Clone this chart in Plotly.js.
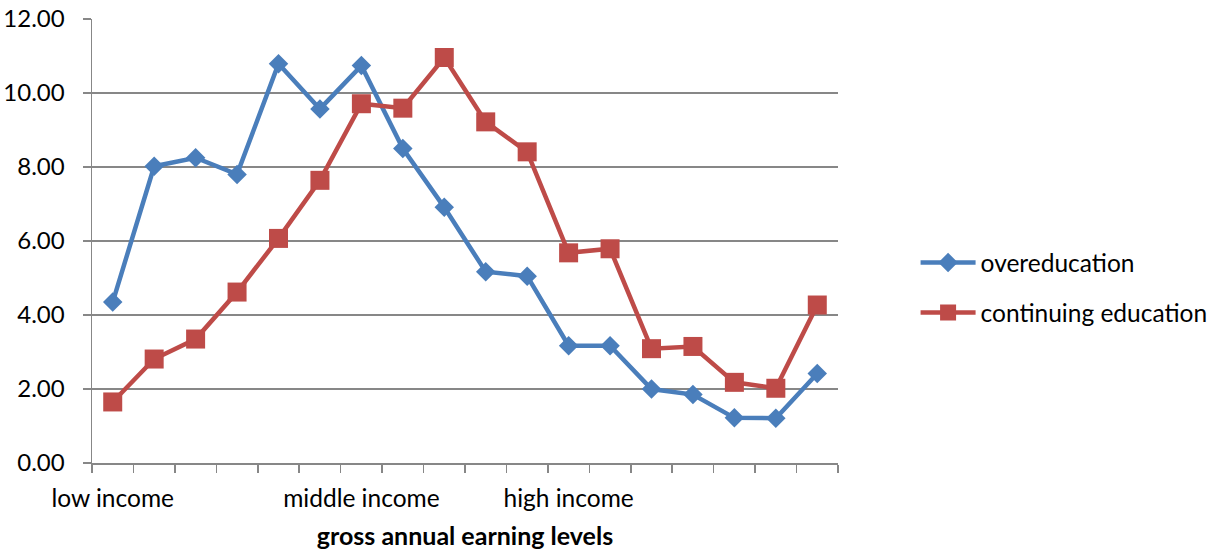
<!DOCTYPE html>
<html>
<head>
<meta charset="utf-8">
<script src="https://cdn.plot.ly/plotly-3.0.1.min.js"></script>
<style>html,body{margin:0;padding:0;background:#fff;}#chart{width:1219px;height:554px;}</style>
</head>
<body>
<div id="chart"></div>
<script>
// earning level positions (18 levels)
const levels = [1, 2, 3, 4, 5, 6, 7, 8, 9, 10, 11, 12, 13, 14, 15, 16, 17, 18];
const labelPositions = [1, 7, 12];
const labelTexts = ["low income", "middle income", "high income"];
const boundaries = [0.5, 1.5, 2.5, 3.5, 4.5, 5.5, 6.5, 7.5, 8.5, 9.5, 10.5, 11.5, 12.5, 13.5, 14.5, 15.5, 16.5, 17.5, 18.5];
const overeducation = [4.35, 8.02, 8.25, 7.80, 10.79, 9.57, 10.74, 8.50, 6.91, 5.17, 5.05, 3.17, 3.17, 2.00, 1.85, 1.22, 1.21, 2.42];
const continuingEducation = [1.65, 2.81, 3.35, 4.62, 6.07, 7.64, 9.71, 9.59, 10.96, 9.22, 8.41, 5.68, 5.79, 3.09, 3.15, 2.18, 2.02, 4.27];

const font = "Lato, 'Open Sans', sans-serif";
const gridC = "#878787";

const traces = [
  {
    x: levels, y: overeducation, name: "overeducation", type: "scatter", mode: "lines+markers",
    legendgroup: "a",
    line: {color: "#4A7EBB", width: 4.5},
    marker: {symbol: "diamond", size: 15, color: "#4A7EBB"}
  },
  {
    x: levels, y: continuingEducation, name: "continuing education", type: "scatter", mode: "lines+markers",
    legendgroup: "b",
    line: {color: "#BE4B48", width: 4.5},
    marker: {symbol: "square", size: 19, color: "#BE4B48"}
  }
];

const layout = {
  width: 1219, height: 554,
  margin: {l: 92, r: 381, t: 19, b: 91, autoexpand: false},
  paper_bgcolor: "#fff", plot_bgcolor: "#fff",
  font: {family: font, size: 24, color: "#000"},
  showlegend: true,
  legend: {
    x: 1.104, y: 0.395, xanchor: "left", yanchor: "middle",
    font: {family: font, size: 24.5, color: "#000"},
    traceorder: "grouped", tracegroupgap: 15, itemwidth: 55,
    bgcolor: "rgba(0,0,0,0)"
  },
  xaxis: {
    range: [0.5, 18.5], showgrid: false, zeroline: false,
    showline: true, linecolor: gridC, linewidth: 1.5,
    tickmode: "array", tickvals: labelPositions, ticktext: labelTexts,
    tickfont: {family: font, size: 24.5, color: "#000"},
    ticks: "", ticklabelstandoff: 13, automargin: false,
    minor: {tickmode: "array", tickvals: boundaries, ticks: "outside", ticklen: 8, tickcolor: gridC, tickwidth: 1.5, showgrid: false},
    title: {text: "gross annual earning levels", font: {family: font, size: 25, color: "#000", weight: "bold"}, standoff: 16}
  },
  yaxis: {
    range: [0, 12], tickmode: "array", tickvals: [0, 2, 4, 6, 8, 10, 12],
    ticktext: ["0.00", "2.00", "4.00", "6.00", "8.00", "10.00", "12.00"],
    tickfont: {family: font, size: 24, color: "#000"},
    showgrid: true, gridcolor: gridC, gridwidth: 1.5, zeroline: false,
    showline: true, linecolor: gridC, linewidth: 1.5,
    ticks: "outside", ticklen: 8, tickcolor: gridC, tickwidth: 1.5,
    ticklabelstandoff: 13, automargin: false
  }
};

Plotly.newPlot("chart", traces, layout, {displayModeBar: false, staticPlot: true});
</script>
</body>
</html>
